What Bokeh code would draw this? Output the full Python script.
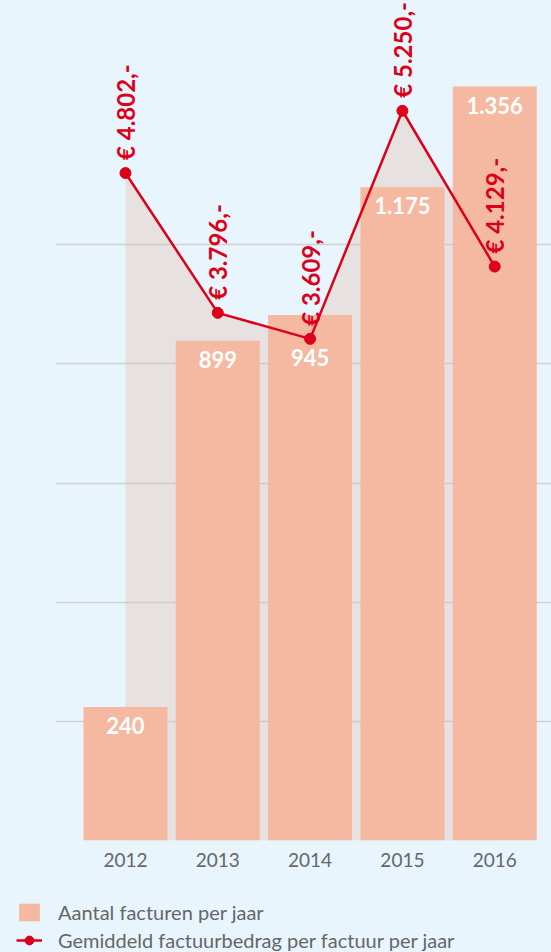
import math
from bokeh.plotting import figure
from bokeh.models import Range1d, FixedTicker, ColumnDataSource, Legend, LegendItem
from bokeh.core.properties import value
from bokeh.embed import file_html
from bokeh.resources import INLINE

# ---- data ----
years = ["2012", "2013", "2014", "2015", "2016"]
invoices = [240, 899, 945, 1175, 1356]
invoice_labels = ["240", "899", "945", "1.175", "1.356"]
avg_amount = [4802, 3796, 3609, 5250, 4129]
avg_labels = ["€ 4.802,-", "€ 3.796,-", "€ 3.609,-", "€ 5.250,-", "€ 4.129,-"]
legend_labels = ["Aantal facturen per jaar", "Gemiddeld factuurbedrag per factuur per jaar"]

BG = "#e8f5fd"
BAR = "#f5b9a1"
AREA = "#e7e2e1"
RED = "#dc0018"
GREY_TXT = "#666666"
FONT = "Lato"

N_MAX = 1500      # bar axis maximum
A_MAX = 6000      # amount axis maximum
EXTRA = 840 / 834  # small headroom above the axis maxima

xs = list(range(len(years)))

# bar labels: if the line point falls just inside the bar top, put label under the point
ratio = N_MAX / A_MAX
label_anchor = []
for n, a in zip(invoices, avg_amount):
    pt = a * ratio
    label_anchor.append(pt if (n - 100 < pt < n) else n)

src = ColumnDataSource(dict(x=xs, n=invoices, nl=invoice_labels, ny=label_anchor,
                            a=avg_amount, al=avg_labels))

p = figure(width=551, height=880, output_backend="svg", toolbar_location=None,
           x_range=Range1d(-0.758, 4.615), y_range=Range1d(0, N_MAX * EXTRA),
           min_border_left=55, min_border_right=0, min_border_top=0, min_border_bottom=40,
           background_fill_color=BG, border_fill_color=BG, outline_line_color=None)
p.extra_y_ranges = {"amt": Range1d(0, A_MAX * EXTRA)}

# grid
p.xgrid.visible = False
p.yaxis.visible = False
p.ygrid.ticker = FixedTicker(ticks=[N_MAX * k / 7 for k in range(1, 6)])
p.ygrid.grid_line_color = "#c9c3c2"
p.ygrid.grid_line_alpha = 0.75
p.ygrid.grid_line_width = 1.5

# grey area under the line
p.varea(x="x", y1=0, y2="a", source=src, y_range_name="amt",
        fill_color=AREA, level="image")

bars = p.vbar(x="x", top="n", bottom=0, width=0.91, source=src,
              fill_color=BAR, line_color=None)
p.text(x="x", y="ny", text="nl", source=src, text_align="center", text_baseline="top",
       y_offset=10, text_color="white", text_font=value(FONT), text_font_style="bold",
       text_font_size="22px")

line = p.line(x="x", y="a", source=src, y_range_name="amt", line_color=RED, line_width=2.5)
pts = p.scatter(x="x", y="a", source=src, y_range_name="amt", size=11,
                fill_color=RED, line_color=RED)
p.text(x="x", y="a", text="al", source=src, y_range_name="amt", angle=math.pi / 2,
       text_align="left", text_baseline="middle", y_offset=-13, text_color=RED,
       text_font=value(FONT), text_font_style="bold", text_font_size="24px")

# x axis
p.xaxis.ticker = FixedTicker(ticks=xs)
p.xaxis.major_label_overrides = {i: y for i, y in enumerate(years)}
p.xaxis.axis_line_color = None
p.xaxis.major_tick_line_color = None
p.xaxis.minor_tick_line_color = None
p.xaxis.major_tick_out = 0
p.xaxis.major_tick_in = 0
p.xaxis.major_label_standoff = 12
p.xaxis.major_label_text_font = FONT
p.xaxis.major_label_text_font_size = "19px"
p.xaxis.major_label_text_color = GREY_TXT

# ---- legend strip (separate root, so its frame starts at the left edge) ----
lg = figure(width=551, height=72, output_backend="svg", toolbar_location=None,
            x_range=Range1d(0, 1), y_range=Range1d(0, 1),
            x_axis_location=None, y_axis_location=None,
            min_border_left=0, min_border_right=0, min_border_top=0, min_border_bottom=0,
            background_fill_color=BG, border_fill_color=BG, outline_line_color=None)
lg.grid.visible = False
# stand-in renderers, kept outside the visible range: only their legend glyphs show
lb = lg.vbar(x=[5], top=[5], bottom=[4], width=0.5, fill_color=BAR, line_color=None)
ll = lg.line(x=[5, 6], y=[5, 6], line_color=RED, line_width=2.5)
lp = lg.scatter(x=[5], y=[5], size=8, fill_color=RED, line_color=RED)

legend = Legend(items=[
    LegendItem(label=legend_labels[0], renderers=[lb]),
    LegendItem(label=legend_labels[1], renderers=[ll, lp]),
], location=(16, 0), orientation="vertical", margin=0, padding=0, spacing=4,
    glyph_width=26, glyph_height=22, label_height=24, label_standoff=16,
    label_text_font=FONT, label_text_font_size="20px", label_text_color=GREY_TXT,
    label_text_baseline="middle", background_fill_alpha=0, border_line_color=None)
lg.add_layout(legend)

html = file_html([p, lg], INLINE, title="chart")
html = html.replace("</head>", "<style>html,body{margin:0;padding:0;background:#e8f5fd;overflow:hidden}</style></head>", 1)
open("out.html", "w").write(html)
